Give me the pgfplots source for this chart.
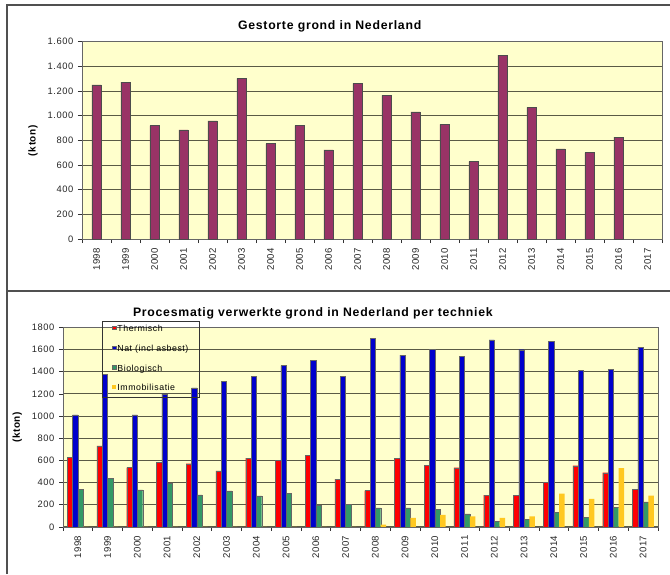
\documentclass[border=0pt]{standalone}
\usepackage{fontspec}
\setmainfont{Liberation Sans}[LetterSpace=6]
\usepackage{pgfplots}
\pgfplotsset{compat=1.18}

\definecolor{plotbg}{HTML}{FFFFCC}
\definecolor{maroon}{HTML}{993366}
\definecolor{gridc}{HTML}{5A5A45}
\definecolor{therm}{HTML}{FF0000}
\definecolor{nat}{HTML}{0000CC}
\definecolor{bio}{HTML}{339966}
\definecolor{immo}{HTML}{FFC820}
\definecolor{panel}{HTML}{505050}

% gestorte grond (kton), 2017 ontbreekt
\pgfplotstableread{
x y
0 1251
1 1273
2 919
3 886
4 959
5 1303
6 773
7 919
8 724
9 1262
10 1165
11 1032
12 930
13 627
14 1492
15 1068
16 732
17 700
18 827
}\gestort

% procesmatig verwerkt per techniek (kton)
\pgfplotstableread{
x therm nat bio immo
0 630 1010 340 0
1 730 1375 440 0
2 535 1010 335 0
3 585 1200 395 0
4 570 1255 290 0
5 505 1310 325 0
6 620 1355 280 0
7 600 1455 300 0
8 645 1500 200 0
9 432 1357 201 0
10 327 1703 171 20
11 621 1549 171 81
12 558 1603 156 108
13 534 1537 117 96
14 288 1688 51 81
15 288 1598 66 96
16 402 1673 132 300
17 552 1411 87 252
18 489 1423 177 531
19 342 1622 225 282
}\verwerkt

\pgfplotsset{
  every axis title shift=0pt,
  excel/.style={
    scale only axis,
    axis background/.style={fill=plotbg},
    axis line style={gray!80!black},
    xmin=-0.5, xmax=19.5, ymin=0,
    xtick={0,...,19},
    xticklabels={1998,1999,2000,2001,2002,2003,2004,2005,2006,2007,2008,2009,2010,2011,2012,2013,2014,2015,2016,2017},
    x tick label style={rotate=90, anchor=east, font=\fontsize{7.2}{8}\selectfont, text=black!85},
    y tick label style={font=\fontsize{7}{8}\selectfont, text=black!85},
    minor xtick={-0.5,0.5,...,19.5},
    tick align=outside,
    major tick length=3pt,
    minor tick length=3pt,
    major x tick style={draw=none},
    every tick/.style={black!80, line width=0.4pt},
    xtick pos=bottom, ytick pos=left,
    ymajorgrids,
    major grid style={gridc, line width=0.7pt},
    ylabel={\textbf{(kton)}},
    ylabel style={font=\fontsize{7.5}{9}\selectfont, anchor=center},
    /pgf/number format/assume math mode=true,
  }
}

\begin{document}
\begin{tikzpicture}[x=0.75pt, y=-0.75pt]
\useasboundingbox (0,0) rectangle (670,574);
\fill[white] (0,0) rectangle (670,574);
% panelranden
\draw[panel, line width=1pt] (7,574) -- (7,5) -- (670,5);
\draw[panel, line width=1.5pt] (7,290.7) -- (670,290.7);

% bovenste grafiek
\begin{axis}[excel,
    at={(61.5pt,-31.3pt)}, anchor=north west,
    width=435pt, height=148pt,
    ymax=1600, ytick={0,200,...,1600},
    /pgf/number format/.cd, 1000 sep={.}, /pgfplots/.cd,
    ylabel style={at={(axis description cs:-0.0845,0.5)}},
    title={Gestorte grond in Nederland},
    title style={at={(axis description cs:0.427,1.08)}, anchor=center, yshift=0pt,
      font=\bfseries\fontsize{9.2}{11}\selectfont},
  ]
  \addplot[ybar, bar width=7pt, fill=maroon, draw=black!70, line width=0.4pt]
    table[x=x, y=y] {\gestort};
\end{axis}

% onderste grafiek
\begin{axis}[excel,
    at={(47.25pt,-245.5pt)}, anchor=north west,
    width=446.25pt, height=149.7pt,
    ymax=1800, ytick={0,200,...,1800},
    /pgf/number format/.cd, 1000 sep={}, /pgfplots/.cd,
    ylabel style={at={(axis description cs:-0.077,0.5)}},
    title={Procesmatig verwerkte grond in Nederland per techniek},
    title style={at={(axis description cs:0.42,1.072)}, anchor=center, yshift=0pt,
      font=\bfseries\fontsize{9.2}{11}\selectfont},
    ybar=0pt, bar width=4pt,
    legend style={at={(axis description cs:0.0655,1.034)}, anchor=north west,
      draw=black!80, fill=none, font=\fontsize{6.6}{7.5}\selectfont,
      inner xsep=7.5pt, inner ysep=1.5pt, row sep=4.5pt,
      nodes={inner xsep=1pt}},
    legend cell align=left,
    legend image code/.code={\fill[#1] (0pt,0pt) rectangle (2.6pt,2.6pt);},
  ]
  \addplot[fill=therm, draw=black!60, line width=0.3pt] table[x=x, y=therm] {\verwerkt};
  \addplot[fill=nat, draw=black!60, line width=0.3pt] table[x=x, y=nat] {\verwerkt};
  \addplot[fill=bio, draw=black!60, line width=0.3pt] table[x=x, y=bio] {\verwerkt};
  \addplot[fill=immo, draw=none] table[x=x, y=immo] {\verwerkt};
  \legend{Thermisch, Nat (incl asbest), Biologisch, Immobilisatie}
\end{axis}
\end{tikzpicture}
\end{document}
